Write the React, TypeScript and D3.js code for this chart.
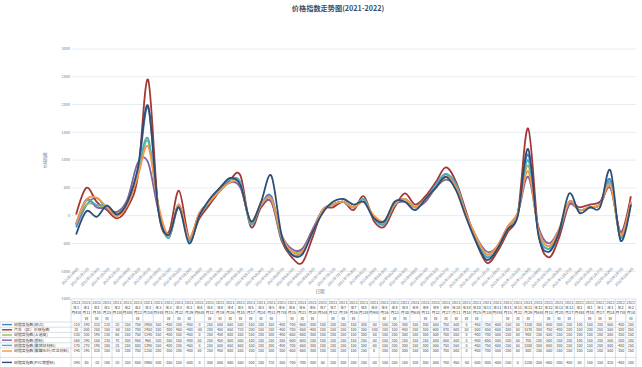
import React from 'react';
import * as d3 from 'd3';

const W = 642;
const H = 367;

const categories = [
  '2021年1月4日','2021年1月11日','2021年1月18日','2021年1月25日','2021年2月1日','2021年2月8日','2021年2月22日',
  '2021年3月1日','2021年3月8日','2021年3月15日','2021年3月22日','2021年3月29日','2021年4月6日','2021年4月12日',
  '2021年4月19日','2021年4月26日','2021年5月10日','2021年5月17日','2021年5月24日','2021年5月31日','2021年6月7日',
  '2021年6月15日','2021年6月21日','2021年6月28日','2021年7月5日','2021年7月12日','2021年7月19日','2021年7月26日',
  '2021年8月2日','2021年8月9日','2021年8月16日','2021年8月23日','2021年8月30日','2021年9月6日','2021年9月13日',
  '2021年9月22日','2021年9月27日','2021年10月11日','2021年10月18日','2021年10月25日','2021年11月1日','2021年11月8日',
  '2021年11月15日','2021年11月22日','2021年11月29日','2021年12月6日','2021年12月13日','2021年12月20日','2021年12月27日',
  '2022年1月4日','2022年1月10日','2022年1月17日','2022年1月24日','2022年2月7日','2022年2月14日'
];

const seriesNames = [
  '树脂类指数(综合)',
  '汽车（pc）价格指数',
  '树脂类指数(人造皮)',
  '树脂类指数(塑料)',
  '树脂类指数(聚烯烃材料)',
  '树脂类指数(聚酯化纤/尼龙材料)',
  '树脂类指数(PVC等塑料)'
];

const seriesColors = ['#4F81BD', '#A33834', '#9BBB59', '#8064A2', '#4BACC6', '#F79646', '#2C4D75'];

const s1 = [-210, 190, 320, 120, 20, 250, 750, 1950, 150, -400, 200, -450, 0, 250, 500, 650, 550, -150, 200, 350, -400, -700, -650, -300, 100, 200, 250, 150, 300, -50, -150, 200, 300, 150, 300, 550, 750, 500, 0, -450, -750, -600, -250, 50, 1100, -300, -600, -300, 250, 100, 150, 200, 650, -400, 250];
const s2 = [20, 500, 250, 100, -50, 150, 700, 2450, 100, -300, 450, -400, -50, 200, 450, 650, 720, -200, 150, 250, -450, -750, -850, -400, 100, 150, 250, 100, 350, -100, -200, 150, 400, 200, 350, 600, 870, 600, 50, -500, -850, -650, -300, 50, 1570, -300, -750, -400, 200, 150, 200, 250, 550, -300, 350];
const s3 = [-130, 200, 190, 130, 60, 250, 750, 1340, 150, -400, 150, -450, 0, 250, 450, 600, 550, -150, 200, 300, -400, -650, -600, -300, 100, 200, 250, 150, 300, -50, -100, 200, 300, 150, 300, 500, 700, 550, 0, -400, -700, -550, -250, 50, 900, -250, -550, -250, 250, 100, 150, 200, 550, -350, 250];
const s4 = [-160, 290, 150, 130, 70, 300, 950, 960, 100, -350, 150, -400, 50, 250, 450, 600, 500, -100, 200, 250, -350, -600, -600, -250, 100, 200, 250, 150, 250, -50, -100, 200, 250, 150, 250, 500, 650, 500, 0, -400, -650, -550, -200, 50, 700, -200, -500, -250, 200, 100, 150, 200, 500, -300, 200];
const s5 = [-170, 270, 190, 180, 20, 250, 800, 1390, 150, -400, 200, -450, 0, 250, 500, 650, 600, -150, 200, 300, -400, -700, -650, -300, 100, 200, 250, 150, 300, -50, -150, 200, 300, 150, 300, 550, 750, 550, 0, -450, -750, -600, -250, 50, 1000, -300, -600, -300, 250, 100, 150, 200, 600, -400, 250];
const s6 = [-140, 290, 320, 150, -10, 200, 700, 1250, 200, -350, 200, -400, 50, 250, 450, 600, 550, -100, 200, 300, -350, -650, -650, -300, 100, 200, 250, 150, 250, 0, -100, 200, 300, 150, 300, 500, 700, 500, 0, -400, -700, -550, -200, 50, 800, -250, -550, -250, 250, 100, 150, 200, 550, -350, 250];
const s7 = [-340, 80, -20, 180, 20, 250, 850, 1980, 100, -350, 150, -500, 0, 300, 500, 680, 550, -100, 250, 720, -350, -700, -700, -300, 50, 250, 300, 200, 250, -50, -100, 250, 250, 100, 300, 500, 700, 450, -50, -500, -800, -600, -250, 0, 1200, -350, -650, -300, 400, 50, 150, 150, 820, -450, 200];

const seriesValues = [s1, s2, s3, s4, s5, s6, s7];
const yTicks = [3000, 2500, 2000, 1500, 1000, 500, 0, -500, -1000, -1500];

const FONT = '"Noto Sans CJK SC", "Noto Sans", sans-serif';

function headerLines(label: string): string[] {
  const m = label.match(/(\d+)年(\d+)月(\d+)日/);
  if (!m) return [label];
  const [, yy, mm, dd] = m;
  const lines = [yy, '年' + mm];
  if (dd.length === 1) lines.push('月' + dd + '日');
  else { lines.push('月' + dd); lines.push('日'); }
  return lines;
}

export default function App() {
  const plotLeft = 71;
  const plotRight = 636;
  const x = d3.scaleBand<number>().domain(categories.map((_, i) => i)).range([plotLeft, plotRight]);
  const bw = x.bandwidth();
  const cx = (i: number) => (x(i) as number) + bw / 2;
  const y = d3.scaleLinear().domain([-1500, 3000]).range([299, 49]);
  const line = d3.line<number>().x((_, i) => cx(i)).y(d => y(d)).curve(d3.curveCardinal.tension(0));

  const tableTop = y(-1500);
  const headerH = 23;
  const rowHs = [5.2, 5.2, 5.2, 5.2, 5.2, 9.4, 10];
  const rowTops: number[] = [];
  let acc = tableTop + headerH;
  rowHs.forEach(h => { rowTops.push(acc); acc += h; });
  const tableBottom = acc;
  const border = '#c8d2de';

  return (
    <svg width={W} height={H} style={{ position: 'absolute', left: 0, top: 0, background: '#fff' }} fontFamily={FONT}>
      <rect x={0} y={0} width={W} height={H} fill="#fff" />
      <text x={338} y={11} textAnchor="middle" fontSize={7.2} fontWeight="bold" fill="#3b4d6b">价格指数走势图(2021-2022)</text>

      {yTicks.map(t => (
        <g key={t}>
          {t > -1500 && <line x1={72} x2={plotRight} y1={y(t)} y2={y(t)} stroke="#dfe6ef" strokeWidth={0.8} />}
          <text x={70} y={y(t) + 1.3} textAnchor="end" fontSize={3.8} fill="#6b7a90">{t}</text>
        </g>
      ))}

      <text transform={`translate(47,160) rotate(-90)`} textAnchor="middle" fontSize={4} fill="#6b7a90">价格指数</text>

      {categories.map((c, i) => (
        <text key={c} transform={`translate(${cx(i) + 3},${269}) rotate(-45)`} textAnchor="end" fontSize={3.6} fill="#6b7a90">{c}</text>
      ))}
      <text x={320} y={293} textAnchor="middle" fontSize={4.5} fill="#6b7a90">日期</text>

      {seriesValues.map((vals, si) => (
        <path key={si} d={line(vals) || ''} fill="none" stroke={seriesColors[si]} strokeWidth={1.8} strokeLinejoin="round" />
      ))}

      {/* data table */}
      <line x1={plotLeft} x2={plotRight} y1={tableTop} y2={tableTop} stroke={border} strokeWidth={0.7} />
      {categories.map((c, i) => (
        <line key={'v' + i} x1={x(i) as number} x2={x(i) as number} y1={tableTop} y2={tableBottom} stroke={border} strokeWidth={0.7} />
      ))}
      <line x1={plotRight} x2={plotRight} y1={tableTop} y2={tableBottom} stroke={border} strokeWidth={0.7} />
      {rowTops.map((t, ri) => (
        <line key={'h' + ri} x1={0} x2={plotRight} y1={t} y2={t} stroke={border} strokeWidth={0.7} />
      ))}
      <line x1={0} x2={0} y1={rowTops[0]} y2={tableBottom} stroke={border} strokeWidth={0.7} />

      {categories.map((c, i) => (
        <g key={'hd' + i}>
          {headerLines(c).map((l, li) => (
            <text key={li} x={cx(i)} y={tableTop + 4.6 + li * 5.4} textAnchor="middle" fontSize={3.9} fill="#404040">{l}</text>
          ))}
        </g>
      ))}

      {seriesValues.map((vals, si) => {
        const top = rowTops[si];
        const mid = si === 5 ? top + 3 : top + rowHs[si] / 2;
        return (
          <g key={'r' + si}>
            <line x1={2} x2={12} y1={mid} y2={mid} stroke={seriesColors[si]} strokeWidth={1.4} />
            <text x={14} y={mid + 1.4} fontSize={3.9} fill="#404040">{seriesNames[si]}</text>
            {vals.map((v, i) => (
              <text key={i} x={cx(i)} y={mid + 1.4} textAnchor="middle" fontSize={3.6} fill="#404040">{v}</text>
            ))}
          </g>
        );
      })}
    </svg>
  );
}
